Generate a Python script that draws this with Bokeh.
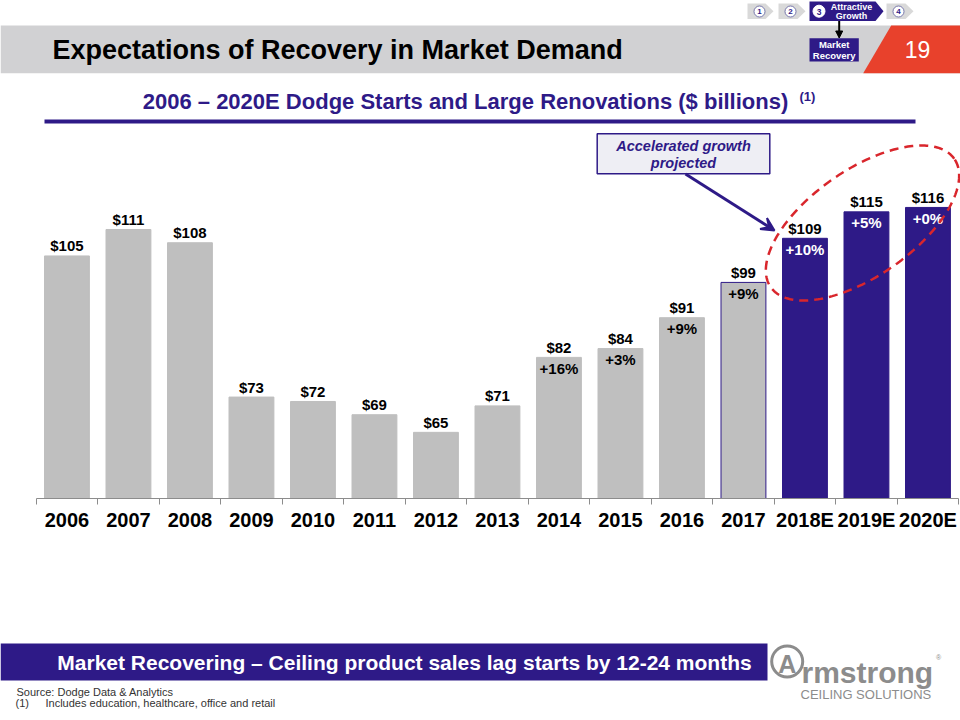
import numpy as np
from bokeh.plotting import figure
from bokeh.models import Range1d, FixedTicker, ColumnDataSource, Arrow, VeeHead, NormalHead
from bokeh.layouts import column
from bokeh.embed import file_html
from bokeh.resources import INLINE
from bokeh.core.properties import value

# ---------------- data ----------------
years = ["2006", "2007", "2008", "2009", "2010", "2011", "2012", "2013",
         "2014", "2015", "2016", "2017", "2018E", "2019E", "2020E"]
starts = [105, 111, 108, 73, 72, 69, 65, 71, 82, 84, 91, 99, 109, 115, 116]
growth = ["", "", "", "", "", "", "", "", "+16%", "+3%", "+9%", "+9%", "+10%", "+5%", "+0%"]
projected = [False] * 12 + [True] * 3
highlight = "2017"

# ---------------- styling / layout ----------------
PURPLE = "#2E1A87"
GRAYBAR = "#BFBFBF"
RED = "#E8412C"
BAND = "#D1D1D3"
FONT = "Liberation Sans"

PAGE_W, PAGE_H = 960, 720
AXIS_Y = 498          # page pixel of the category axis
FRAME_H = AXIS_Y      # frame height in px
BORDER_B = 47
H_MAIN = FRAME_H + BORDER_B
H_FOOT = PAGE_H - H_MAIN
PX_PER_UNIT = 4.41
Y_BASE = 50
STEP = 61.5
X0 = 66.45

x_range = Range1d((0 - X0) / STEP, (PAGE_W - X0) / STEP)
y_range = Range1d(Y_BASE, Y_BASE + FRAME_H / PX_PER_UNIT)

p = figure(width=PAGE_W, height=H_MAIN, x_range=x_range, y_range=y_range,
           y_axis_location=None, output_backend="svg", toolbar_location=None,
           min_border_left=0, min_border_right=0, min_border_top=0,
           min_border_bottom=BORDER_B, outline_line_color=None)
p.extra_x_ranges = {"px": Range1d(0, PAGE_W)}
p.extra_y_ranges = {"px": Range1d(AXIS_Y, 0)}
p.grid.visible = False
p.background_fill_color = "white"


def txt(fig, x, y, s, size, color, style="bold", align="center",
        baseline="middle", font=FONT):
    fig.text(x=[x], y=[y], text=[s], x_range_name="px", y_range_name="px",
             text_font=value(font), text_font_size=f"{size}px",
             text_font_style=style, text_color=color, text_align=align,
             text_baseline=baseline)


# ---- header band ----
p.quad(left=[0], right=[PAGE_W], top=[25], bottom=[72.7], fill_color=BAND,
       line_color=None, x_range_name="px", y_range_name="px")
p.patch([890.7, PAGE_W, PAGE_W, 862.7], [25, 25, 72.7, 72.7], fill_color=RED,
        line_color=None, x_range_name="px", y_range_name="px")
txt(p, 917, 49, "19", 23, "white", style="normal")
txt(p, 52, 49, "Expectations of Recovery in Market Demand", 27, "black", align="left")

# progress chevrons
def chevron(x0, x1, y0, y1, color):
    ym = (y0 + y1) / 2
    p.patch([x0, x1 - 8, x1, x1 - 8, x0], [y0, y0, ym, y1, y1], fill_color=color,
            line_color=None, x_range_name="px", y_range_name="px")

for (a, b, n) in [(747, 773, "1"), (778, 805, "2"), (886, 913, "4")]:
    chevron(a, b, 3, 18.5, "#D9D9D9")
    p.scatter(x=[a + 12], y=[11], size=11, fill_color="white", line_color="#5A5A9A",
              line_width=0.8, x_range_name="px", y_range_name="px")
    txt(p, a + 12, 11.3, n, 8, PURPLE)
chevron(809, 883, 1, 20.5, PURPLE)
p.scatter(x=[818.5], y=[10.7], size=12, fill_color="white", line_color="white",
          x_range_name="px", y_range_name="px")
txt(p, 818.5, 11, "3", 8.5, PURPLE)
txt(p, 851, 6, "Attractive", 9, "white")
txt(p, 851, 15.5, "Growth", 9, "white")
p.add_layout(Arrow(x_start=838.7, y_start=20.5, x_end=838.7, y_end=37.5,
                   line_width=2, line_color="black",
                   end=NormalHead(size=7, fill_color="black", line_color="black"),
                   x_range_name="px", y_range_name="px"))
p.quad(left=[809], right=[858.3], top=[37.7], bottom=[61], fill_color=PURPLE,
       line_color=None, x_range_name="px", y_range_name="px")
txt(p, 833.7, 44.3, "Market", 9.5, "white")
txt(p, 833.7, 54.5, "Recovery", 9.5, "white")

# ---- subtitle ----
txt(p, 465, 101, "2006 \u2013 2020E Dodge Starts and Large Renovations ($ billions)", 22, PURPLE)
txt(p, 799, 96, "(1)", 13, PURPLE, align="left")
p.quad(left=[44], right=[915], top=[119], bottom=[123], fill_color=PURPLE,
       line_color=None, x_range_name="px", y_range_name="px")

# ---- bars ----
fill = [PURPLE if pr else GRAYBAR for pr in projected]
line = [PURPLE if (pr or y == highlight) else GRAYBAR for y, pr in zip(years, projected)]
gcol = ["white" if pr else "black" for pr in projected]
src = ColumnDataSource(dict(x=list(range(len(years))), top=starts,
                            label=[f"${v}" for v in starts], growth=growth,
                            fill=fill, line=line, gcol=gcol))
p.vbar(x="x", top="top", bottom=0, width=0.73, fill_color="fill",
       line_color="line", line_width=1, source=src)
p.text(x="x", y="top", text="label", source=src, y_offset=-10,
       text_font=value(FONT), text_font_style="bold", text_font_size="15px",
       text_color="black", text_align="center", text_baseline="middle")
p.text(x="x", y="top", text="growth", source=src, y_offset=11,
       text_font=value(FONT), text_font_style="bold", text_font_size="15px",
       text_color="gcol", text_align="center", text_baseline="middle")

# ---- x axis ----
ax = p.xaxis[0]
ax.ticker = FixedTicker(ticks=list(range(len(years))),
                        minor_ticks=[k - 0.5 for k in range(len(years) + 1)])
ax.major_label_overrides = {i: y for i, y in enumerate(years)}
ax.bounds = (-0.5, len(years) - 0.5)
ax.axis_line_color = "#8C8C8C"
ax.major_tick_line_color = None
ax.major_tick_in = 0
ax.major_tick_out = 0
ax.minor_tick_in = 0
ax.minor_tick_out = 6
ax.minor_tick_line_color = "#8C8C8C"
ax.major_label_standoff = 4
ax.major_label_text_font = FONT
ax.major_label_text_font_style = "bold"
ax.major_label_text_font_size = "20px"
ax.major_label_text_color = "black"

# ---- callout ----
p.quad(left=[596.7], right=[769.3], top=[133.3], bottom=[173.3], fill_color="#EEEEF4",
       line_color=PURPLE, line_width=1.5, x_range_name="px", y_range_name="px")
txt(p, 683, 145.5, "Accelerated growth", 14.5, PURPLE, style="bold italic")
txt(p, 683, 162.5, "projected", 14.5, PURPLE, style="bold italic")
p.add_layout(Arrow(x_start=685, y_start=173.5, x_end=774, y_end=230,
                   line_width=3, line_color=PURPLE,
                   end=VeeHead(size=13, fill_color=PURPLE, line_color=PURPLE, line_width=2),
                   x_range_name="px", y_range_name="px"))

# dashed ellipse around projections
t = np.linspace(0, 2 * np.pi, 240)
th = np.deg2rad(35)
cx, cy, ea, eb = 862, 222.5, 112, 53
ex = cx + ea * np.cos(t) * np.cos(th) - eb * np.sin(t) * np.sin(th)
ey = cy - (ea * np.cos(t) * np.sin(th) + eb * np.sin(t) * np.cos(th))
p.line(ex, ey, line_color="#D9262C", line_width=2.5, line_dash="9 6",
       x_range_name="px", y_range_name="px")

# ---------------- footer ----------------
f = figure(width=PAGE_W, height=H_FOOT, x_range=Range1d(0, PAGE_W),
           y_range=Range1d(PAGE_H, H_MAIN),
           x_axis_location=None, y_axis_location=None, output_backend="svg",
           toolbar_location=None, min_border=0, outline_line_color=None)
f.extra_x_ranges = {"px": Range1d(0, PAGE_W)}
f.extra_y_ranges = {"px": Range1d(PAGE_H, H_MAIN)}
f.grid.visible = False

f.quad(left=[0], right=[767], top=[643], bottom=[680], fill_color=PURPLE,
       line_color=None, x_range_name="px", y_range_name="px")
txt(f, 404, 662, "Market Recovering \u2013 Ceiling product sales lag starts by 12-24 months", 21, "white")
txt(f, 16, 691, "Source: Dodge Data & Analytics", 11, "#333333", style="normal", align="left")
txt(f, 15, 702, "(1)", 11, "#333333", style="normal", align="left")
txt(f, 45, 702, "Includes education, healthcare, office and retail", 11, "#333333", style="normal", align="left")

# logo
f.scatter(x=[786.7], y=[661], size=31, fill_color=None, line_color="#8C8C8C", line_width=3,
          x_range_name="px", y_range_name="px")
txt(f, 786.7, 663, "A", 25, "#8C8C8C")
txt(f, 801, 671.7, "rmstrong", 30, "#8C8C8C", align="left", baseline="alphabetic")
txt(f, 938, 657, "\u00ae", 7, "#8C8C8C", style="normal")
txt(f, 800, 693.5, "CEILING SOLUTIONS", 13, "#8C8C8C", style="normal", align="left")

layout = column(p, f, spacing=0)
open("out.html", "w").write(file_html(layout, INLINE))
